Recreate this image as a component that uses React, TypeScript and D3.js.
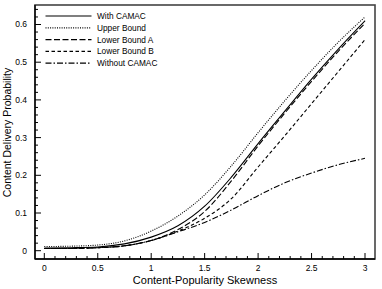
import React from 'react';
import * as d3 from 'd3';

// values
const skewness = [0, 0.25, 0.5, 0.75, 1, 1.25, 1.5, 1.75, 2, 2.25, 2.5, 2.75, 3];
const upperBound = [0.011, 0.012, 0.015, 0.026, 0.052, 0.092, 0.148, 0.225, 0.313, 0.398, 0.478, 0.553, 0.62];
const withCamac = [0.007, 0.008, 0.01, 0.018, 0.036, 0.066, 0.118, 0.195, 0.284, 0.37, 0.455, 0.535, 0.61];
const lowerBoundA = [0.006, 0.006, 0.008, 0.013, 0.027, 0.056, 0.104, 0.185, 0.278, 0.365, 0.449, 0.529, 0.603];
const lowerBoundB = [0.006, 0.006, 0.008, 0.013, 0.027, 0.052, 0.086, 0.138, 0.222, 0.305, 0.39, 0.475, 0.56];
const withoutCamac = [0.006, 0.006, 0.008, 0.013, 0.027, 0.05, 0.075, 0.108, 0.146, 0.18, 0.206, 0.228, 0.245];

const xTicks = [0, 0.5, 1, 1.5, 2, 2.5, 3];
const yTicks = [0, 0.1, 0.2, 0.3, 0.4, 0.5, 0.6];

const series = [
  { name: 'With CAMAC', values: withCamac, dash: null },
  { name: 'Upper Bound', values: upperBound, dash: '1,1.3' },
  { name: 'Lower Bound A', values: lowerBoundA, dash: '6,2.5' },
  { name: 'Lower Bound B', values: lowerBoundB, dash: '3.5,2.5' },
  { name: 'Without CAMAC', values: withoutCamac, dash: '6,2,1.5,2' },
];

const W = 382;
const H = 289;
const box = { left: 35, right: 375, top: 5, bottom: 259 };
const font = '"Liberation Sans", Arial, Helvetica, sans-serif';

export default function App() {
  const x = d3.scaleLinear().domain([0, 3]).range([44.3, 365]);
  const y = d3.scaleLinear().domain([0, 0.6]).range([250.7, 24.5]);

  const line = d3.line<number>()
    .x((_, i) => x(skewness[i]))
    .y(d => y(d))
    .curve(d3.curveMonotoneX);

  // minor ticks
  const xMinor = d3.range(0, 31).map(i => i / 10).filter(v => !xTicks.includes(v));
  const yMinor = d3.range(0, 33).map(i => i / 50).filter(v => y(v) > box.top + 2);

  return (
    <svg width={W} height={H} style={{ position: 'absolute', left: 0, top: 0, background: '#fff' }}
      fontFamily={font}>
      <rect x={box.left} y={box.top} width={box.right - box.left} height={box.bottom - box.top}
        fill="none" stroke="#444" strokeWidth={1.6} />
      <line x1={box.left} x2={box.left} y1={box.top} y2={box.bottom} stroke="#000" strokeWidth={1.3} />
      <line x1={box.left} x2={box.right} y1={box.bottom} y2={box.bottom} stroke="#000" strokeWidth={1.3} />

      {xTicks.map(t => (
        <g key={'xt' + t}>
          <line x1={x(t)} x2={x(t)} y1={box.bottom} y2={box.bottom - 6} stroke="#000" strokeWidth={1} />
          <text x={x(t)} y={270.5} textAnchor="middle" fontSize={8.5}>{t}</text>
        </g>
      ))}
      {xMinor.map(t => (
        <line key={'xm' + t} x1={x(t)} x2={x(t)} y1={box.bottom} y2={box.bottom - 3} stroke="#000" strokeWidth={1} />
      ))}
      {yTicks.map(t => (
        <g key={'yt' + t}>
          <line x1={box.left} x2={box.left + 6} y1={y(t)} y2={y(t)} stroke="#000" strokeWidth={1} />
          <text x={27} y={y(t)} dy="0.35em" textAnchor="end" fontSize={8.5}>{t}</text>
        </g>
      ))}
      {yMinor.filter(v => !yTicks.some(t => Math.abs(t - v) < 1e-6)).map(t => (
        <line key={'ym' + t} x1={box.left} x2={box.left + 3} y1={y(t)} y2={y(t)} stroke="#000" strokeWidth={1} />
      ))}

      {series.map(s => (
        <path key={s.name} d={line(s.values) || ''} fill="none" stroke="#000" strokeWidth={1.1}
          strokeDasharray={s.dash || undefined} />
      ))}

      {series.map((s, i) => (
        <g key={'lg' + s.name}>
          <line x1={45.5} x2={91.5} y1={16 + i * 11.8} y2={16 + i * 11.8} stroke="#000" strokeWidth={1.2}
            strokeDasharray={s.dash || undefined} />
          <text x={97} y={16 + i * 11.8} dy="0.35em" fontSize={8.3}>{s.name}</text>
        </g>
      ))}

      <text x={(box.left + box.right) / 2} y={284} textAnchor="middle" fontSize={11}>
        Content-Popularity Skewness
      </text>
      <text transform={`translate(11,132.5) rotate(-90)`} textAnchor="middle" fontSize={10.5}>
        Content Delivery Probability
      </text>
    </svg>
  );
}
